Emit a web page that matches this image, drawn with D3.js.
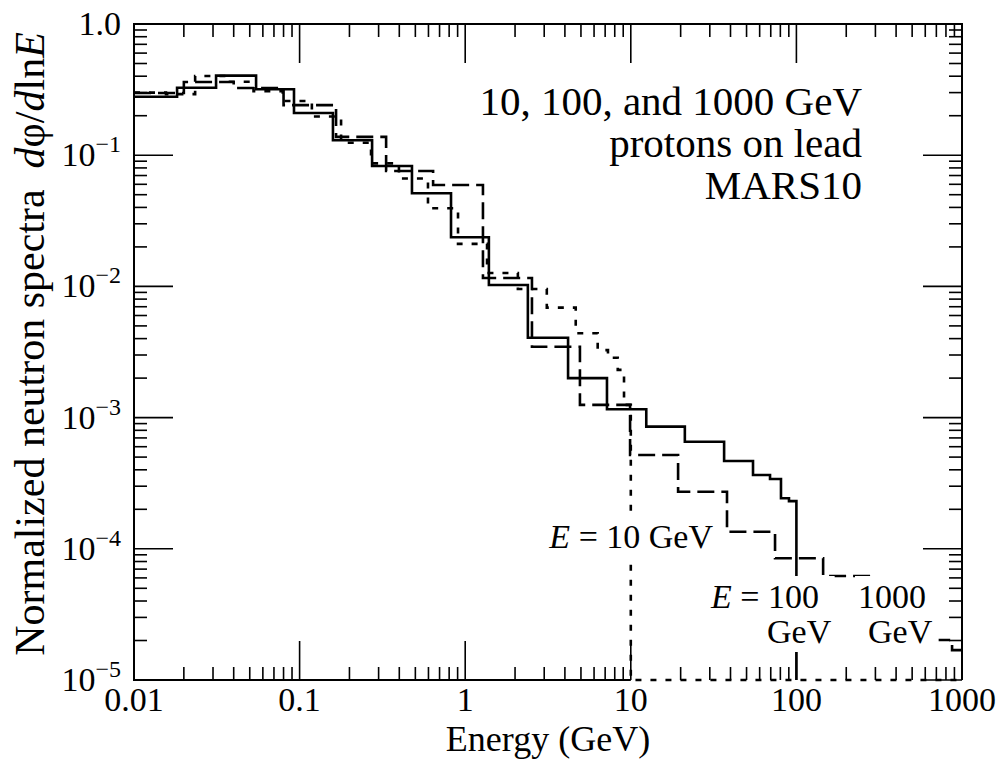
<!DOCTYPE html>
<html><head><meta charset="utf-8">
<script src="https://cdn.jsdelivr.net/npm/d3@7"></script>
<style>
body{margin:0;background:#fff}
svg{display:block}
text{font-family:"Liberation Serif","Times New Roman",serif;fill:#000}
</style>
</head><body>
<svg id="c" width="999" height="760"></svg>
<script>
// ---- data ----
const xTickValues = [0.01, 0.1, 1, 10, 100, 1000];
const xTickLabels = ["0.01", "0.1", "1", "10", "100", "1000"];
const yTickValues = [1, 1e-1, 1e-2, 1e-3, 1e-4, 1e-5];
const yTickExponents = [null, "1", "2", "3", "4", "5"];

// E = 100 GeV (solid)
const solidEdges = [0.01, 0.0182, 0.0313, 0.0546, 0.0925, 0.159, 0.274, 0.477, 0.821, 1.39, 2.39, 4.18, 7.18, 12.4, 21.2, 36.6, 54.7, 69.3, 80.7, 90.2, 100];
const solidValues = [0.279, 0.327, 0.404, 0.318, 0.210, 0.130, 0.0828, 0.0513, 0.0237, 0.01025, 0.00406, 0.00200, 0.001157, 0.000853, 0.000655, 0.000467, 0.000365, 0.000340, 0.000243, 0.000231];

// E = 1000 GeV (dashed)
const dashedEdges = [0.01, 0.02, 0.04, 0.08, 0.166, 0.333, 0.64, 1.28, 2.53, 4.93, 9.9, 19.3, 38.1, 74.3, 145, 286, 687, 871, 1000];
const dashedValues = [0.298, 0.361, 0.325, 0.241, 0.138, 0.0758, 0.0593, 0.0116, 0.00347, 0.00125, 5.19e-4, 2.72e-4, 1.35e-4, 8.47e-5, 6.2e-5, 3.2e-5, 2.02e-5, 1.69e-5];

// E = 10 GeV (dotted)
const dottedEdges = [0.01, 0.0156, 0.0234, 0.0350, 0.0527, 0.0791, 0.1186, 0.178, 0.270, 0.398, 0.596, 0.905, 1.355, 2.08, 3.11, 4.65, 6.31, 7.28, 8.34, 9.10, 10, 1000];
const dottedValues = [0.300, 0.292, 0.401, 0.363, 0.308, 0.259, 0.197, 0.1245, 0.0867, 0.0664, 0.0394, 0.0211, 0.01265, 0.00955, 0.00689, 0.0044, 0.00327, 0.00286, 0.00231, 0.00125, 0];

// ---- layout ----
const L = 134, R = 962, T = 24, B = 680;
const svg = d3.select("#c");
const x = d3.scaleLog().domain([0.01, 1000]).range([L, R]);
const y = d3.scaleLog().domain([1e-5, 1]).range([B, T]).clamp(true);
const yv = v => v <= 0 ? B : y(v);

function histPoints(edges, values, dropEnd) {
  const pts = [];
  for (let i = 0; i < values.length; i++) {
    pts.push([edges[i], values[i]]);
    pts.push([edges[i + 1], values[i]]);
  }
  if (dropEnd) pts.push([edges[edges.length - 1], 0]);
  return pts;
}
const line = d3.line().x(d => x(d[0])).y(d => yv(d[1]));

const gData = svg.append("g");
gData.append("path").attr("d", line(histPoints(dottedEdges, dottedValues, false)))
  .attr("fill", "none").attr("stroke", "#000").attr("stroke-width", 2.6).attr("stroke-dasharray", "6,9");
gData.append("path").attr("d", line(histPoints(dashedEdges, dashedValues, false)))
  .attr("fill", "none").attr("stroke", "#000").attr("stroke-width", 2.6).attr("stroke-dasharray", "17,7");
gData.append("path").attr("d", line(histPoints(solidEdges, solidValues, true)))
  .attr("fill", "none").attr("stroke", "#000").attr("stroke-width", 2.6);

// frame (bottom baseline only up to 10 GeV; beyond, the dotted curve lies on it)
svg.append("path")
  .attr("d", `M${x(10)},${B}H${L}V${T}H${R}V${B}`)
  .attr("fill", "none").attr("stroke", "#000").attr("stroke-width", 2);

// ticks
const MAJ = 39, MIN = 13;
const gT = svg.append("g").attr("stroke", "#000").attr("stroke-width", 1.6);
const xMinor = [];
for (let p = -2; p < 3; p++) for (let m = 2; m <= 9; m++) xMinor.push(m * Math.pow(10, p));
const yMinor = [];
for (let p = -5; p < 0; p++) for (let m = 2; m <= 9; m++) yMinor.push(m * Math.pow(10, p));
xTickValues.forEach(v => {
  gT.append("line").attr("x1", x(v)).attr("x2", x(v)).attr("y1", B).attr("y2", B - MAJ);
  gT.append("line").attr("x1", x(v)).attr("x2", x(v)).attr("y1", T).attr("y2", T + MAJ);
});
xMinor.forEach(v => {
  gT.append("line").attr("x1", x(v)).attr("x2", x(v)).attr("y1", B).attr("y2", B - MIN);
  gT.append("line").attr("x1", x(v)).attr("x2", x(v)).attr("y1", T).attr("y2", T + MIN);
});
yTickValues.forEach(v => {
  gT.append("line").attr("x1", L).attr("x2", L + MAJ).attr("y1", y(v)).attr("y2", y(v));
  gT.append("line").attr("x1", R).attr("x2", R - MAJ).attr("y1", y(v)).attr("y2", y(v));
});
yMinor.forEach(v => {
  gT.append("line").attr("x1", L).attr("x2", L + MIN).attr("y1", y(v)).attr("y2", y(v));
  gT.append("line").attr("x1", R).attr("x2", R - MIN).attr("y1", y(v)).attr("y2", y(v));
});

// tick labels
xTickValues.forEach((v, i) => {
  svg.append("text").attr("x", x(v)).attr("y", 711).attr("text-anchor", "middle")
    .attr("font-size", 34).text(xTickLabels[i]);
});
yTickValues.forEach((v, i) => {
  const t = svg.append("text").attr("x", 121).attr("y", y(v) + 11).attr("text-anchor", "end").attr("font-size", 34);
  if (yTickExponents[i] === null) { t.text("1.0"); }
  else {
    t.append("tspan").text("10");
    t.append("tspan").attr("font-size", 24).attr("dy", -14).text("\u2212" + yTickExponents[i]);
  }
});

// axis titles
svg.append("text").attr("x", (L + R) / 2).attr("y", 751).attr("text-anchor", "middle")
  .attr("font-size", 36).text("Energy (GeV)");
const yt = svg.append("text").attr("transform", "translate(44,344) rotate(-90)")
  .attr("text-anchor", "middle").attr("font-size", 42);
yt.append("tspan").text("Normalized neutron spectra\u00a0\u00a0");
yt.append("tspan").attr("font-style", "italic").text("d");
yt.append("tspan").text("\u03c6/");
yt.append("tspan").attr("font-style", "italic").text("d");
yt.append("tspan").text("ln");
yt.append("tspan").attr("font-style", "italic").text("E");

// annotation
const ann = ["10, 100, and 1000 GeV", "protons on lead", "MARS10"];
ann.forEach((s, i) => {
  svg.append("text").attr("x", 862).attr("y", 115 + i * 42).attr("text-anchor", "end")
    .attr("font-size", 41).text(s);
});

// curve labels with white background
function boxed(build, padR) {
  const g = svg.append("g");
  const rect = g.append("rect").attr("fill", "#fff");
  build(g);
  const bb = g.node().getBBox();
  rect.attr("x", bb.x - 3).attr("y", bb.y - 2).attr("width", bb.width + 6 + (padR || 0)).attr("height", bb.height + 4);
}
boxed(g => {
  const t = g.append("text").attr("x", 713).attr("y", 548).attr("font-size", 34).attr("text-anchor", "end");
  t.append("tspan").attr("font-style", "italic").text("E");
  t.append("tspan").text(" = 10 GeV");
});
boxed(g => {
  const t = g.append("text").attr("x", 711).attr("y", 608).attr("font-size", 34);
  t.append("tspan").attr("font-style", "italic").text("E");
  t.append("tspan").text(" = 100");
  g.append("text").attr("x", 767).attr("y", 643).attr("font-size", 34).text("GeV");
});
boxed(g => {
  g.append("text").attr("x", 858).attr("y", 608).attr("font-size", 34).text("1000");
  g.append("text").attr("x", 868).attr("y", 643).attr("font-size", 34).text("GeV");
}, 3);
</script>
</body></html>
